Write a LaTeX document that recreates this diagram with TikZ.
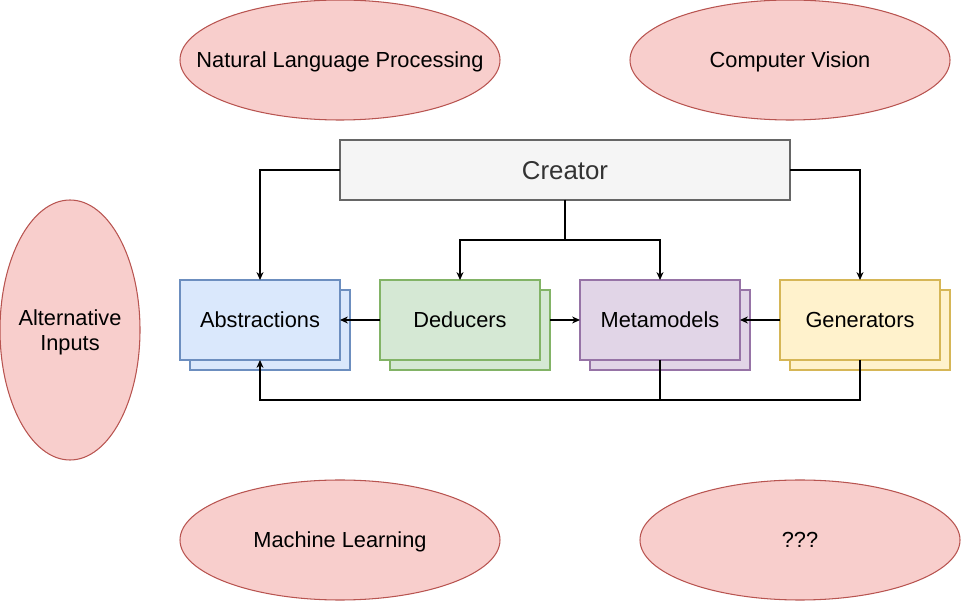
\documentclass[tikz,border=0pt]{standalone}
\usepackage{fontspec}
\setsansfont{Liberation Sans}
\usetikzlibrary{arrows.meta,shapes.geometric,positioning,shadows}
\definecolor{redfill}{HTML}{F8CECC}
\definecolor{reddraw}{HTML}{B85450}
\definecolor{rootfill}{HTML}{F5F5F5}
\definecolor{rootdraw}{HTML}{666666}
\definecolor{roottext}{HTML}{333333}
\definecolor{absfill}{HTML}{DAE8FC}
\definecolor{absdraw}{HTML}{6C8EBF}
\definecolor{dedfill}{HTML}{D5E8D4}
\definecolor{deddraw}{HTML}{82B366}
\definecolor{metfill}{HTML}{E1D5E7}
\definecolor{metdraw}{HTML}{9673A6}
\definecolor{genfill}{HTML}{FFF2CC}
\definecolor{gendraw}{HTML}{D6B656}
\newcommand{\nowidth}[1]{\makebox[0pt]{#1}}
\tikzset{
  basic/.style  = {draw, font=\sffamily\fontsize{12.4}{14.2}\selectfont, rectangle,
                   line width=0.6pt, outer sep=0pt, inner sep=0pt, text depth=0pt},
  root/.style   = {basic, fill=rootfill, draw=rootdraw, text=roottext,
                   minimum width=9cm, minimum height=1.2cm,
                   font=\sffamily\fontsize{14.7}{17}\selectfont},
  stack/.style 2 args = {basic, fill=#1, draw=#2, minimum width=3.2cm,
                   minimum height=1.6cm,
                   copy shadow={shadow xshift=0.2cm, shadow yshift=-0.2cm,
                   fill=#1, draw=#2}},
  field/.style  = {basic, ellipse, fill=redfill, draw=reddraw, align=center}
}
\begin{document}
\begin{tikzpicture}[
  >={Stealth[length=4.5pt,width=4pt]},
  line width=0.6pt]
\useasboundingbox (0,0) rectangle (19.22,-12.02);

% the fields around the tool
\node[field, minimum width=6.4cm, minimum height=2.4cm] (nlp) at (6.8,-1.2)
  {\nowidth{Natural Language Processing}};
\node[field, minimum width=6.4cm, minimum height=2.4cm] (cv) at (15.8,-1.2)
  {\nowidth{Computer Vision}};
\node[field, minimum width=2.8cm, minimum height=5.2cm] (alt) at (1.4,-6.6)
  {\nowidth{Alternative}\\\nowidth{Inputs}};
\node[field, minimum width=6.4cm, minimum height=2.4cm] (ml) at (6.8,-10.8)
  {\nowidth{Machine Learning}};
\node[field, minimum width=6.4cm, minimum height=2.4cm] (qqq) at (16,-10.8)
  {\nowidth{???}};

% the creator and its four parts
\node[root] (creator) at (11.3,-3.4) {Creator};
\node[stack={absfill}{absdraw}] (abs) at (5.2,-6.4) {Abstractions};
\node[stack={dedfill}{deddraw}, right=0.8cm of abs] (ded) {Deducers};
\node[stack={metfill}{metdraw}, right=0.8cm of ded] (met) {Metamodels};
\node[stack={genfill}{gendraw}, right=0.8cm of met] (gen) {Generators};

% creator feeds the parts
\draw[->] (creator.west) -| (abs.north);
\draw[->] (creator.east) -| (gen.north);
\foreach \part in {ded,met}
  \draw[->] (creator.south) -- ++(0,-0.8) -| (\part.north);

% arrows along the row
\draw[->] (ded.west) -- (abs.east);
\draw[->] ([xshift=0.2cm]ded.east) -- (met.west);
\draw[->] (gen.west) -- (met.east);

% back to the abstractions
\draw (met.south) -- ++(0,-0.8);
\draw[->] (gen.south) -- ++(0,-0.8) -| (abs.south);
\end{tikzpicture}
\end{document}
